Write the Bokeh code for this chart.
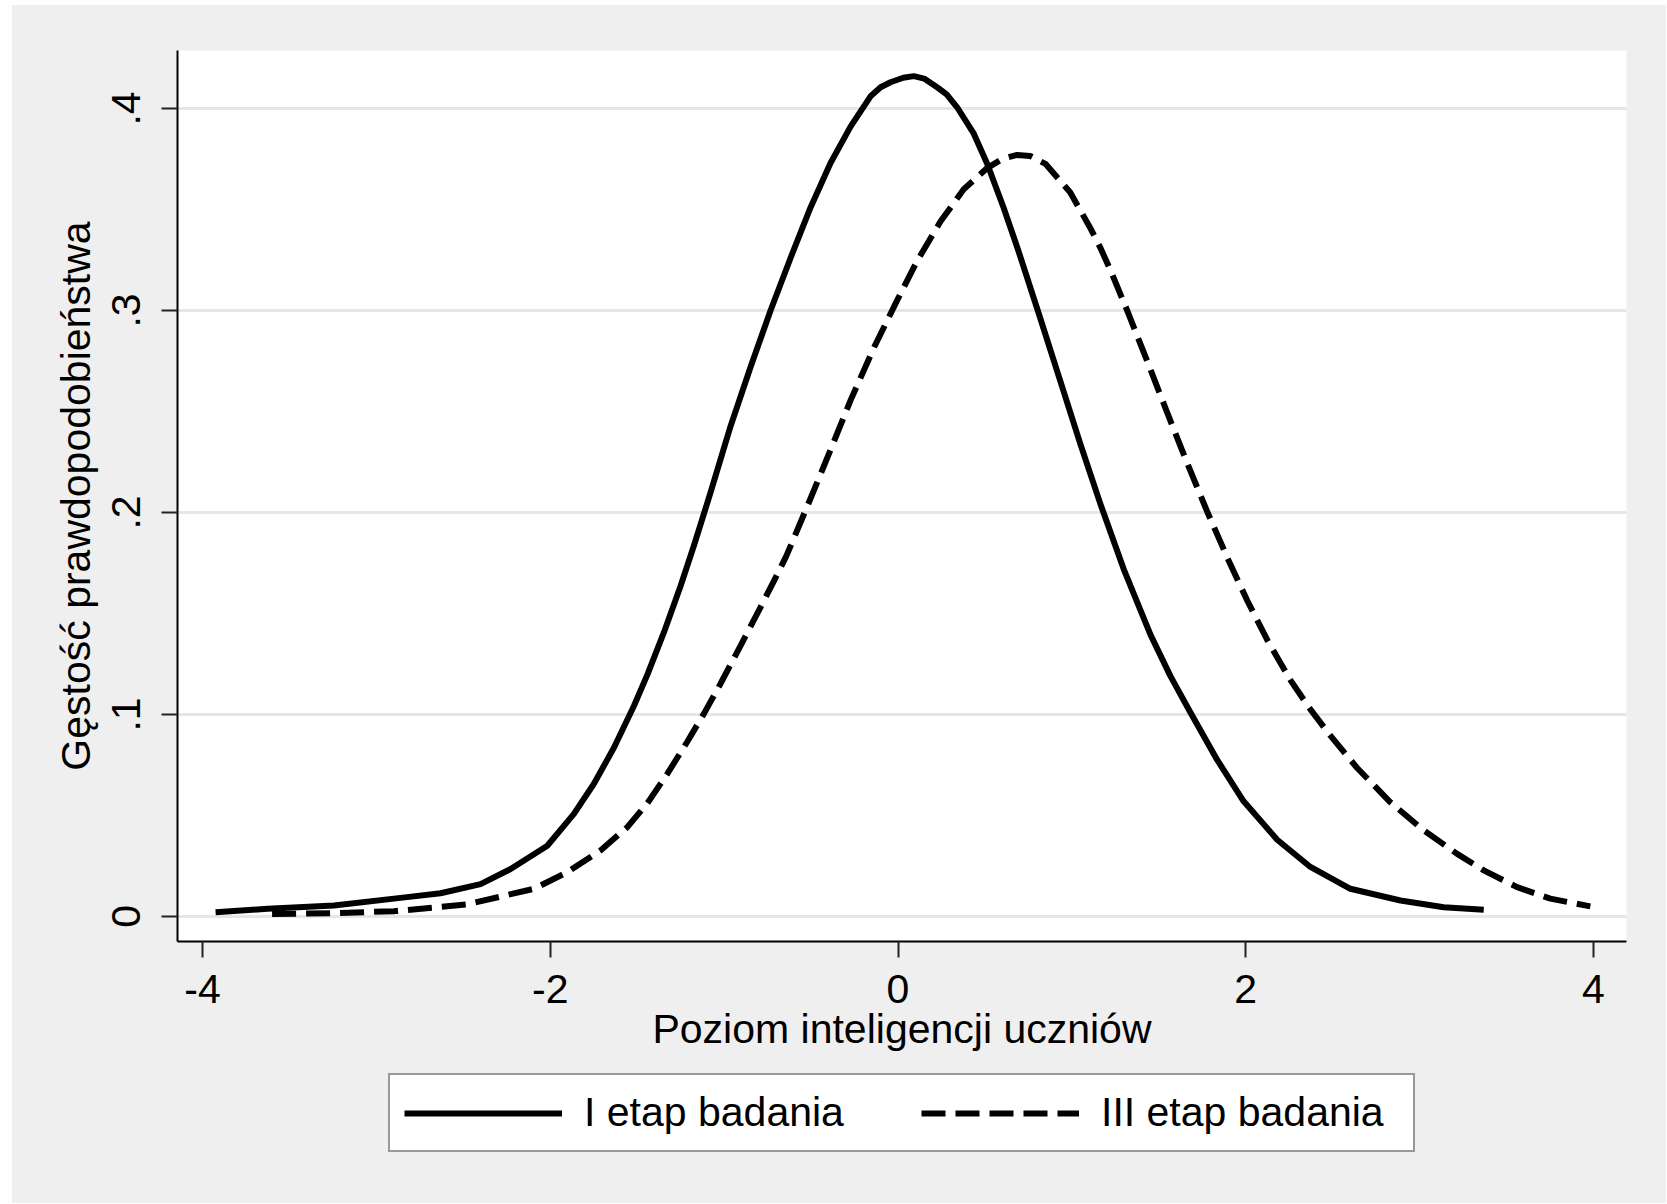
from bokeh.plotting import figure
from bokeh.layouts import column
from bokeh.models import Range1d, FixedTicker, Legend, LegendItem
from bokeh.embed import file_html
from bokeh.resources import INLINE

# ---- data ----
x_stage1 = [-3.925, -3.627, -3.244, -2.861, -2.631, -2.401, -2.228, -2.017, -1.864, -1.749,
            -1.634, -1.519, -1.442, -1.347, -1.251, -1.174, -1.078, -0.963, -0.848, -0.733,
            -0.618, -0.503, -0.388, -0.273, -0.158, -0.100, -0.043, 0.030, 0.091, 0.150,
            0.225, 0.280, 0.340, 0.436,
            0.513, 0.608, 0.690, 0.810, 0.930, 1.050, 1.165, 1.298, 1.452, 1.567,
            1.682, 1.836, 1.988, 2.181, 2.372, 2.602, 2.890, 3.139, 3.369]
dens_stage1 = [0.0021, 0.0038, 0.0054, 0.0092, 0.0115, 0.0160, 0.0235, 0.0350, 0.0508, 0.0657,
               0.0835, 0.1042, 0.1196, 0.1405, 0.1635, 0.1835, 0.2099, 0.2427, 0.2720, 0.3000,
               0.3260, 0.3510, 0.3730, 0.3910, 0.4060, 0.4105, 0.4130, 0.4152, 0.4160, 0.4148,
               0.4105, 0.4070, 0.4006, 0.3875,
               0.3726, 0.3507, 0.3302, 0.2984, 0.2660, 0.2336, 0.2040, 0.1720, 0.1395, 0.1190,
               0.1010, 0.0775, 0.0570, 0.0380, 0.0245, 0.0137, 0.0079, 0.0046, 0.0033]

x_stage3 = [-3.600, -3.244, -2.899, -2.477, -2.094, -1.902, -1.711, -1.557, -1.442, -1.327,
            -1.212, -1.117, -1.021, -0.906, -0.791, -0.714, -0.642, -0.522, -0.388, -0.273,
            -0.139, -0.005, 0.110, 0.244, 0.378, 0.513, 0.600, 0.685, 0.760, 0.848,
            0.990, 1.105, 1.164, 1.222, 1.318, 1.433, 1.548, 1.663, 1.778, 1.900,
            2.008, 2.123, 2.257, 2.372, 2.487, 2.641, 2.832, 3.024, 3.216, 3.369,
            3.561, 3.752, 3.982]
dens_stage3 = [0.0012, 0.0016, 0.0026, 0.0060, 0.0137, 0.0219, 0.0327, 0.0442, 0.0560, 0.0706,
               0.0865, 0.1003, 0.1152, 0.1340, 0.1530, 0.1660, 0.1785, 0.2030, 0.2310, 0.2555,
               0.2815, 0.3050, 0.3245, 0.3440, 0.3600, 0.3705, 0.3750, 0.3770, 0.3765, 0.3726,
               0.3585, 0.3410, 0.3310, 0.3200, 0.3000, 0.2750, 0.2495, 0.2245, 0.2005, 0.1765,
               0.1565, 0.1370, 0.1170, 0.1025, 0.0895, 0.0735, 0.0565, 0.0426, 0.0310, 0.0228,
               0.0145, 0.0088, 0.0050]

series_labels = ["I etap badania", "III etap badania"]
x_ticks = [-4, -2, 0, 2, 4]
x_tick_labels = ["-4", "-2", "0", "2", "4"]
y_ticks = [0, 0.1, 0.2, 0.3, 0.4]
y_tick_labels = ["0", ".1", ".2", ".3", ".4"]
x_title = "Poziom inteligencji uczniów"
y_title = "Gęstość prawdopodobieństwa"

FONT = "Liberation Sans"
FS = "41px"
GRAY = "#efefef"
LW = 6
DASH = "24 10"

p = figure(frame_width=1449, frame_height=891, output_backend="svg", toolbar_location=None,
           x_range=Range1d(-4.144, 4.19), y_range=Range1d(-0.0124, 0.4287),
           min_border_left=165, min_border_right=40, min_border_top=45, min_border_bottom=130)

p.background_fill_color = "white"
p.border_fill_color = GRAY
p.outline_line_color = None

p.xgrid.visible = False
p.ygrid.ticker = FixedTicker(ticks=y_ticks)
p.ygrid.grid_line_color = "#e6e6e6"
p.ygrid.grid_line_width = 3

for ax in (p.xaxis[0], p.yaxis[0]):
    ax.axis_line_color = "black"
    ax.axis_line_width = 2
    ax.major_tick_line_color = "#222222"
    ax.major_tick_line_width = 2
    ax.major_tick_in = 0
    ax.major_tick_out = 16
    ax.minor_tick_line_color = None
    ax.major_label_text_font = FONT
    ax.major_label_text_font_size = FS
    ax.major_label_text_color = "black"
    ax.axis_label_text_font = FONT
    ax.axis_label_text_font_size = FS
    ax.axis_label_text_font_style = "normal"
    ax.axis_label_text_color = "black"

p.xaxis.ticker = FixedTicker(ticks=x_ticks)
p.xaxis.major_label_overrides = dict(zip(x_ticks, x_tick_labels))
p.xaxis.axis_label = x_title
p.xaxis.major_label_standoff = 17
p.xaxis.axis_label_standoff = 0

p.yaxis.ticker = FixedTicker(ticks=y_ticks)
p.yaxis.major_label_overrides = dict(zip(y_ticks, y_tick_labels))
p.yaxis.major_label_orientation = "vertical"
p.yaxis.axis_label = y_title
p.yaxis.major_label_standoff = 21
p.yaxis.axis_label_standoff = 11

p.line(x_stage1, dens_stage1, line_color="black", line_width=LW, line_join="round")
p.line(x_stage3, dens_stage3, line_color="black", line_width=LW, line_dash=DASH)

# legend strip below the graph (same gray region); its key lines lie outside its visible range
lf = figure(frame_width=1654, frame_height=132, output_backend="svg", toolbar_location=None,
            x_axis_type=None, y_axis_type=None,
            min_border_left=0, min_border_right=0, min_border_top=0, min_border_bottom=0,
            x_range=Range1d(-4.144, 4.19), y_range=Range1d(10, 11))
lf.background_fill_color = GRAY
lf.border_fill_color = GRAY
lf.outline_line_color = None
lf.grid.visible = False
k1 = lf.line(x_stage1, dens_stage1, line_color="black", line_width=LW)
k3 = lf.line(x_stage3, dens_stage3, line_color="black", line_width=LW, line_dash=DASH)

legend = Legend(items=[LegendItem(label=series_labels[0], renderers=[k1]),
                       LegendItem(label=series_labels[1], renderers=[k3])],
                orientation="horizontal", location=(376, 51),
                glyph_width=158, glyph_height=40,
                label_text_font=FONT, label_text_font_size=FS, label_text_color="black",
                label_standoff=22, label_width=298, spacing=39, padding=14, margin=0,
                border_line_color="#333333", border_line_width=2,
                background_fill_color="white", background_fill_alpha=1.0)
lf.add_layout(legend, "center")

page = column(p, lf, spacing=0, margin=(5, 0, 0, 12), styles={"background-color": GRAY})

open("out.html", "w").write(file_html(page, INLINE))
